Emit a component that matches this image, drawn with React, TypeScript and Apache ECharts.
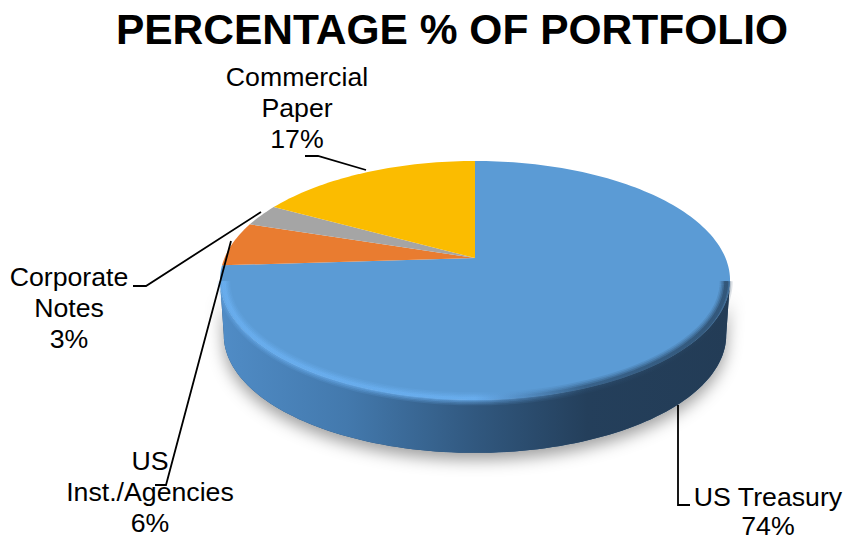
import React, { useEffect, useRef } from "react";
import * as echarts from "echarts";

const titleText = "PERCENTAGE % OF PORTFOLIO";
const categories = ["US Treasury", "US\nInst./Agencies", "Corporate\nNotes", "Commercial\nPaper"];
const values = [74, 6, 3, 17];
const colors = ["#5b9bd5", "#e97c30", "#a5a5a5", "#fbbc00"];

// layout of the projected disc
const CX = 475, Y0 = 258, A = 250.5, B = 115.3, K = 0.188;
const DEPTH = 55, BASE_SCALE = 0.985;
const FONT = '"Liberation Sans", Arial, sans-serif';

const labelAnchors = [[768, 482], [150, 446], [69, 262], [297, 62]];
const labelLineHeights = [29, 30.7, 30.7, 30.7];
const leaders = [
  [[678, 405], [678, 505], [690, 505]],
  [[155, 485], [166, 485], [231, 241]],
  [[133, 286], [146, 286], [261, 212]],
  [[305, 156], [318, 156], [366, 170]],
];

function project(thetaDeg: number, dy = 0, s = 1) {
  const t = (thetaDeg * Math.PI) / 180;
  const u = Math.sin(t), v = Math.cos(t), w = 1 + K * v;
  return [CX + (s * A * u) / w, Y0 + dy - (s * B * v) / w];
}
function arc(from: number, to: number, dy = 0, s = 1) {
  const n = Math.max(2, Math.ceil(Math.abs(to - from) / 1.5));
  const pts: number[][] = [];
  for (let i = 0; i <= n; i++) pts.push(project(from + ((to - from) * i) / n, dy, s));
  return pts;
}

const total = values.reduce((a, b) => a + b, 0);
const FRONT_L = 100.8, FRONT_R = 259.2;

function renderSlice(params: any, api: any) {
  const idx = params.dataIndex;
  let before = 0;
  for (let i = 0; i < idx; i++) before += values[i];
  const a0 = (before / total) * 360;
  const a1 = ((before + api.value(1)) / total) * 360;
  const children: any[] = [];

  const f0 = Math.max(a0, FRONT_L), f1 = Math.min(a1, FRONT_R);
  if (f1 > f0) {
    const wallPts = [...arc(f0, f1), ...arc(f1, f0, DEPTH, BASE_SCALE)];
    children.push({
      type: "polygon",
      shape: { points: wallPts },
      style: {
        fill: "#2a4a6b",
        shadowBlur: 16,
        shadowColor: "rgba(0,0,0,0.38)",
        shadowOffsetY: 7,
      },
    });
    children.push({
      type: "polygon",
      shape: { points: wallPts },
      style: {
        fill: new echarts.graphic.LinearGradient(0, 0, 1, 0, [
          { offset: 0, color: "#508cc6" },
          { offset: 0.25, color: "#4379ad" },
          { offset: 0.5, color: "#31587f" },
          { offset: 0.72, color: "#243f5b" },
          { offset: 1, color: "#233c56" },
        ]),
      },
    });
  }

  children.push({
    type: "polygon",
    shape: { points: [[CX, Y0], ...arc(a0, a1)] },
    style: { fill: colors[idx] },
  });

  if (f1 > f0) {
    const rimGrad = () =>
      new echarts.graphic.LinearGradient(0, 0, 1, 0, [
        { offset: 0, color: "#6cb2f4" },
        { offset: 0.5, color: "#6cb2f4" },
        { offset: 0.6, color: "#4f86bb" },
        { offset: 0.72, color: "#2c4e70" },
        { offset: 1, color: "#243f5a" },
      ]);
    const rimPts = arc(f0, f1, 1, 0.985);
    [[13, 0.14], [10, 0.2], [7, 0.3], [4, 0.45]].forEach(([w, o]) => {
      children.push({
        type: "polyline",
        shape: { points: rimPts },
        style: { stroke: rimGrad(), lineWidth: w, opacity: o, fill: "none" },
      });
    });
  }

  children.push({
    type: "polyline",
    shape: { points: leaders[idx] },
    style: { stroke: "#000", lineWidth: 1.8, fill: "none" },
    z2: 10,
  });
  children.push({
    type: "text",
    z2: 11,
    style: {
      x: labelAnchors[idx][0],
      y: labelAnchors[idx][1],
      text: `${categories[idx]}\n${api.value(1)}%`,
      font: `26.7px ${FONT}`,
      fill: "#000",
      align: "center",
      verticalAlign: "top",
      lineHeight: labelLineHeights[idx],
    },
  });
  return { type: "group", children };
}

export default function App() {
  const ref = useRef<HTMLDivElement>(null);
  useEffect(() => {
    const chart = echarts.init(ref.current!, undefined, { renderer: "svg" });
    chart.setOption({
      animation: false,
      backgroundColor: "#fff",
      title: {
        text: titleText,
        left: 447,
        top: 3,
        textAlign: "center",
        textStyle: { fontFamily: FONT, fontWeight: "bold", fontSize: 42.5, color: "#000" },
      },
      series: [
        {
          type: "custom",
          coordinateSystem: "none",
          renderItem: renderSlice,
          data: values.map((v, i) => ({ name: categories[i], value: [i, v] })),
          silent: true,
        },
      ],
    });
    return () => chart.dispose();
  }, []);
  return <div ref={ref} style={{ position: "absolute", left: 0, top: 0, width: 848, height: 540 }} />;
}
